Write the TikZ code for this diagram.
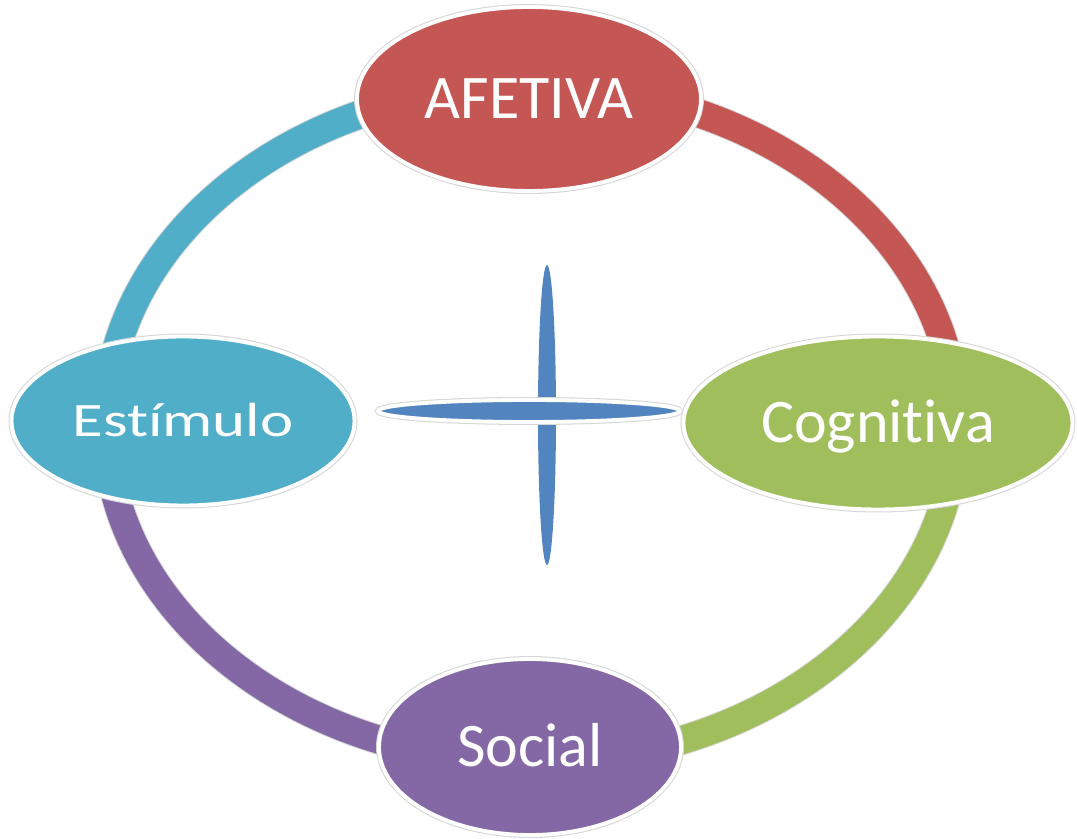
\documentclass[tikz,border=0pt]{standalone}
\usepackage{fontspec}
\setmainfont{Carlito}[Ligatures=NoCommon]
\usepackage{tikz}
\usetikzlibrary{shapes.geometric}
\definecolor{afe}{HTML}{C45653}
\definecolor{cog}{HTML}{A0BE5C}
\definecolor{soc}{HTML}{8468A6}
\definecolor{est}{HTML}{50AEC8}
\definecolor{crs}{HTML}{5284C0}
\definecolor{edge}{HTML}{D6D6D6}
\tikzset{
  ring/.style={line width=0.56cm, line cap=butt, preaction={draw=edge, line width=0.6cm}},
  blob/.style={ellipse, draw=white, line width=2.2pt, inner sep=0pt, text=white,
    font=\fontsize{35.3}{42}\selectfont, text height=22.7pt, text depth=0pt,
    preaction={draw=edge, line width=3.4pt}},
  lens/.style={fill=crs},
  lensrim/.style={fill=crs, draw=white, line width=2.2pt,
    preaction={draw=edge, line width=3.4pt}},
}
\begin{document}
\begin{tikzpicture}
  \def\rx{8.5}
  \def\ry{6.76}
  \useasboundingbox (-10.62,-8.30) rectangle (10.92,8.48);
  \coordinate (N) at (0,\ry);
  \coordinate (E) at (\rx,0);
  \coordinate (S) at (0,-\ry);
  \coordinate (W) at (-\rx,0);
  \foreach \p/\a/\c in {N/90/afe, E/0/cog, S/-90/soc, W/180/est}
    \draw[ring, draw=\c] (\p) arc[start angle=\a, delta angle=-90, x radius=\rx, y radius=\ry];
  \coordinate (vc) at (0.32,0.18);
  \coordinate (hc) at (-0.04,0.26);
  \fill[lens] (vc) ellipse[x radius=0.18, y radius=3.0];
  \draw[lensrim] (hc) ellipse[x radius=3.02, y radius=0.22];
  \node[blob, fill=afe, minimum width=6.88cm, minimum height=3.68cm] (afetiva) at (-0.04,6.50) {AFETIVA};
  \node[blob, fill=cog, minimum width=7.78cm, minimum height=3.46cm] (cognitiva) at (6.94,0.02) {Cognitiva};
  \node[blob, fill=soc, minimum width=6.04cm, minimum height=3.52cm] (social) at (-0.02,-6.46) {Social};
  \node[blob, fill=est, minimum width=6.86cm, minimum height=3.38cm, font=\fontsize{27.3}{33}\selectfont, text height=17.6pt] (estimulo) at (-6.96,0.06) {\scalebox{1.31}[1]{Estímulo}};
\end{tikzpicture}
\end{document}
